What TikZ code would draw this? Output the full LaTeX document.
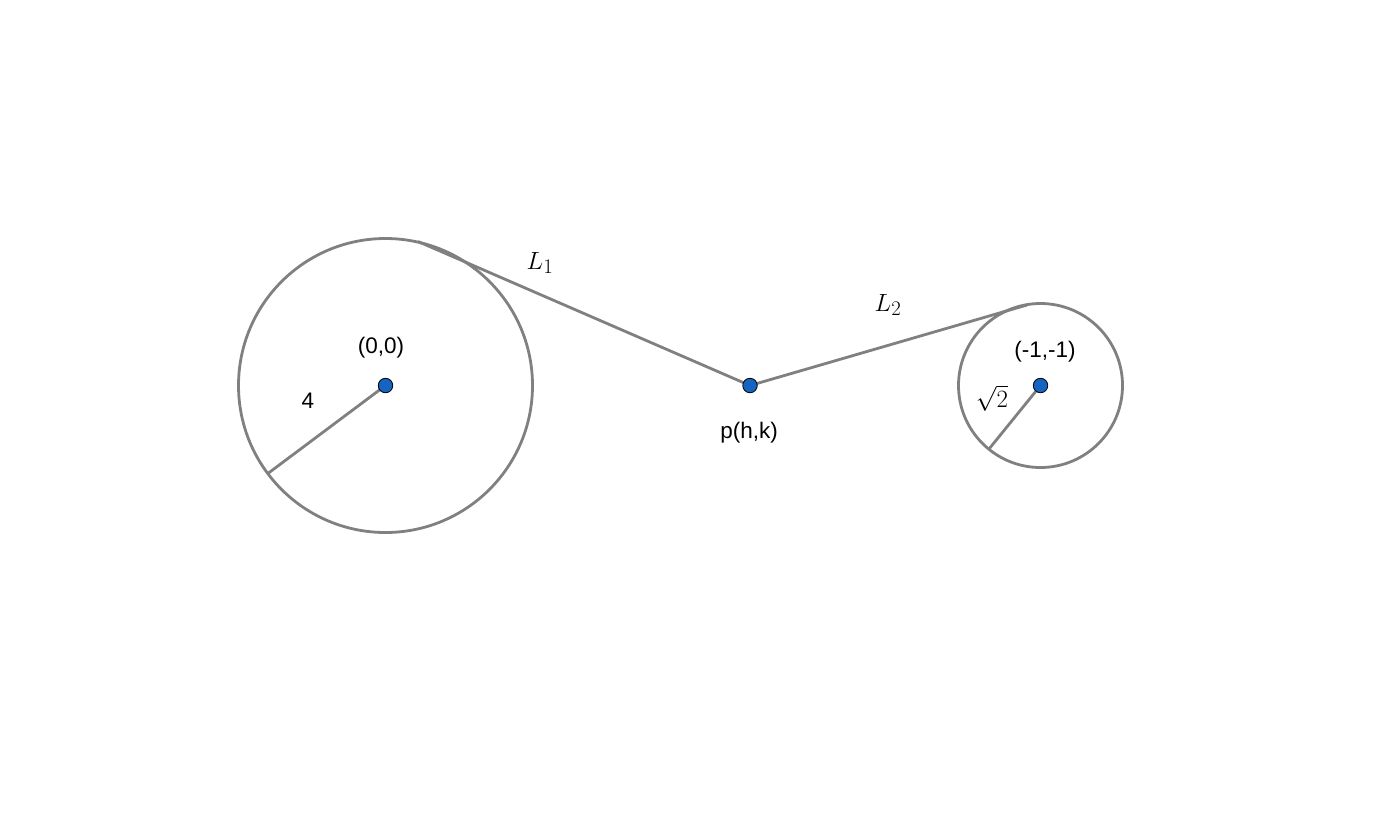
\documentclass[tikz,border=0pt]{standalone}
\usepackage{fontspec}
\setmainfont{Liberation Sans}
\begin{document}
\begin{tikzpicture}[x=1pt,y=-1pt,
  gline/.style={draw={rgb,255:red,128;green,128;blue,128},line width=2.8pt},
  dotpt/.style={circle,fill={rgb,255:red,21;green,101;blue,192},draw=black,line width=0.8pt,inner sep=0pt,minimum size=14.5pt},
  lab/.style={font=\fontsize{22.5}{26}\selectfont,inner sep=0pt},
  mlab/.style={font=\fontsize{28}{32}\selectfont,inner sep=0pt}]
\useasboundingbox (0,0) rectangle (1378,820);
\coordinate (C1) at (385.5,385.5);
\coordinate (C2) at (1040.5,385.5);
\coordinate (T1) at (418,241.5);
\coordinate (T2) at (1027,305);
\coordinate (R1) at (268.5,473);
\coordinate (R2) at (989,449);
\draw[gline] (C1) circle[radius=147];
\draw[gline] (C2) circle[radius=82];
\draw[gline] (T1) -- (750,385.5) coordinate (P) -- (T2);
\draw[gline] (C1) -- (R1);
\draw[gline] (C2) -- (R2);
\node[dotpt] (c1) at (C1) {};
\node[dotpt] (c2) at (C2) {};
\node[dotpt] (p) at (P) {};
\node[lab] (l00) at (381,348) {(0,0)};
\node[lab] (l4) at (308,401) {4};
\node[lab] (lp) at (749,433) {p(h,k)};
\node[lab] (lm1) at (1045,352) {(-1,-1)};
\node[mlab] (lL1) at (540,263) {$L_1$};
\node[mlab] (lL2) at (888,305) {$L_2$};
\node[mlab] (ls2) at (992,398) {$\sqrt{2}$};
\end{tikzpicture}
\end{document}
